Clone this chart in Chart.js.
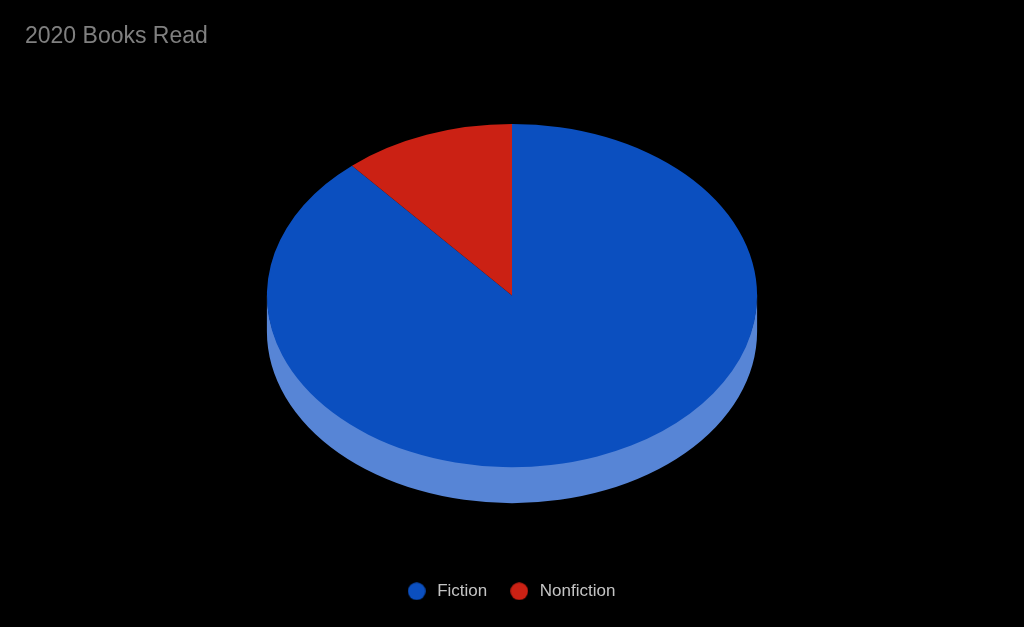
<!DOCTYPE html>
<html>
<head>
<meta charset="utf-8">
<style>html,body{margin:0;padding:0;background:#000}#w{width:1024px;height:627px}</style>
<script src="https://cdn.jsdelivr.net/npm/chart.js@4"></script>
</head>
<body>
<div id="w"><canvas id="c" width="1024" height="627"></canvas></div>
<script>
const categories = ['Fiction', 'Nonfiction'];
const booksRead = [47, 6];
const sliceColors = ['#0b4fbf', '#cb2114'];
const sideColors = ['#5785d6', '#db6a60'];
const tilt = 171.5 / 245;
const depth = 36;

function legendDot(color) {
  const c = document.createElement('canvas');
  c.width = 18; c.height = 18;
  const g = c.getContext('2d');
  g.fillStyle = color;
  g.beginPath();
  g.arc(9, 9, 8.8, 0, Math.PI * 2);
  g.fill();
  return c;
}
const legendDots = sliceColors.map(legendDot);

const tilted3d = {
  id: 'tilted3d',
  afterLayout(chart) {
    chart.legend.left -= 2;
    chart.legend.right -= 2;
  },
  beforeDatasetsDraw(chart) {
    const ctx = chart.ctx;
    const arcs = chart.getDatasetMeta(0).data;
    const cx = arcs[0].x, cy = arcs[0].y;
    ctx.save();
    ctx.translate(cx, cy);
    ctx.scale(1, tilt);
    ctx.translate(-cx, -cy);
    // extruded side: the front-facing part of each arc the library laid out
    arcs.forEach((a, i) => {
      const from = Math.max(a.startAngle, 0);
      const to = Math.min(a.endAngle, Math.PI);
      if (to <= from) return;
      ctx.beginPath();
      ctx.arc(a.x, a.y - 3, a.outerRadius, from, to);
      ctx.arc(a.x, a.y + depth / tilt, a.outerRadius, to, from, true);
      ctx.closePath();
      ctx.fillStyle = sideColors[i];
      ctx.fill();
    });
  },
  afterDatasetsDraw(chart) {
    chart.ctx.restore();
  }
};

new Chart(document.getElementById('c'), {
  type: 'pie',
  plugins: [tilted3d],
  data: {
    labels: categories,
    datasets: [{
      data: booksRead,
      backgroundColor: sliceColors,
      borderWidth: 0,
      clip: false
    }]
  },
  options: {
    responsive: false,
    animation: false,
    devicePixelRatio: 1,
    layout: { padding: { top: 0, left: 25, right: 25, bottom: 17.3 } },
    plugins: {
      tooltip: { enabled: false },
      title: {
        display: true,
        text: '2020 Books Read',
        align: 'start',
        color: '#808080',
        font: { family: '"Liberation Sans", Arial, sans-serif', size: 23, weight: 'normal' },
        padding: { top: 22.4, bottom: 0.5 }
      },
      legend: {
        position: 'bottom',
        title: {
          display: true,
          text: ' ',
          color: 'rgba(0,0,0,0)',
          font: { size: 10 },
          padding: 5
        },
        labels: {
          usePointStyle: true,
          pointStyleWidth: 24,
          boxHeight: 12.7,
          padding: 20,
          color: '#c4c4c4',
          font: { family: '"Liberation Sans", Arial, sans-serif', size: 17 },
          generateLabels(chart) {
            return Chart.overrides.pie.plugins.legend.labels.generateLabels(chart)
              .map((item, i) => ({ ...item, pointStyle: legendDots[i] }));
          }
        }
      }
    }
  }
});
</script>
</body>
</html>
